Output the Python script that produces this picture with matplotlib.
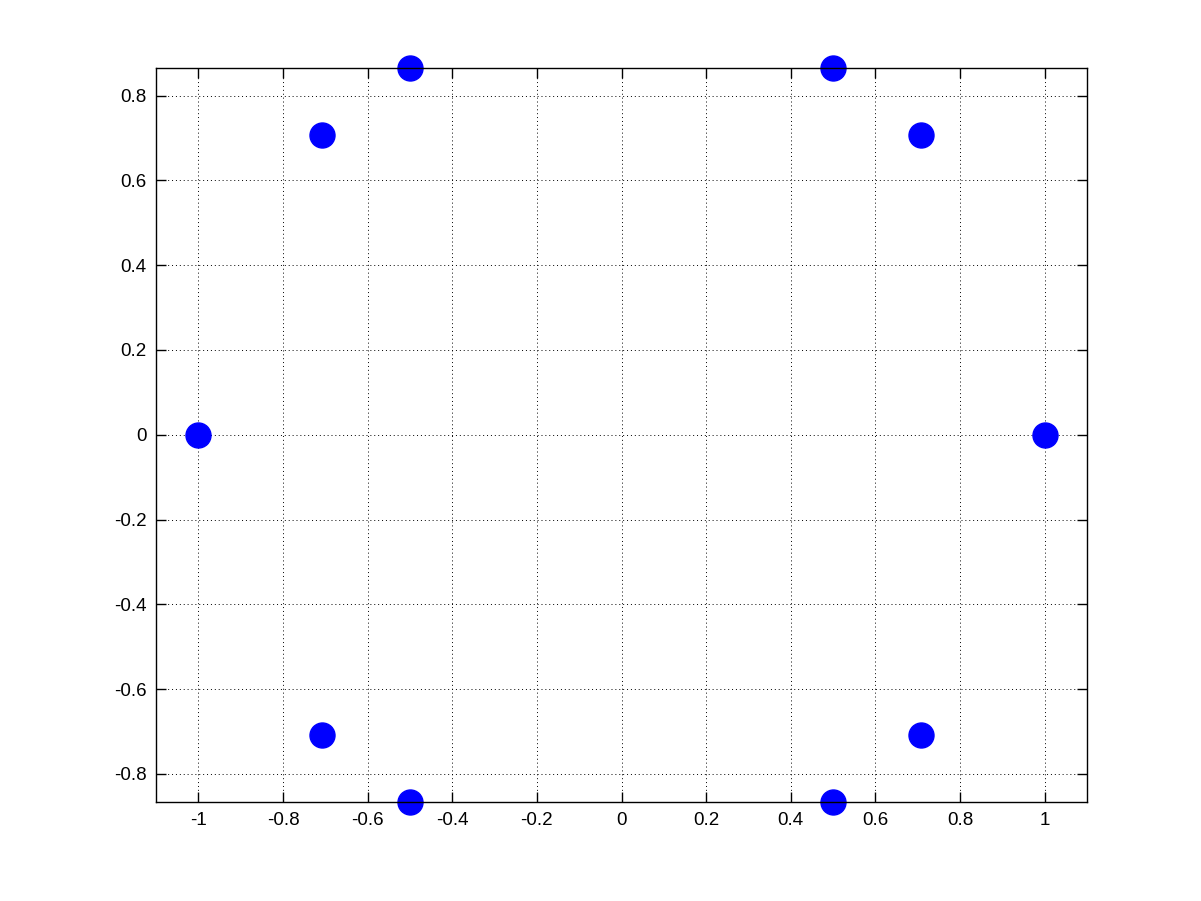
import matplotlib
matplotlib.use("Agg")
import matplotlib.pyplot as plt

# root locations (unit circle)
x_vals = [1.0, 0.7071, 0.5, -0.5, -0.7071, -1.0, -0.7071, -0.5, 0.5, 0.7071]
y_vals = [0.0, 0.7071, 0.866, 0.866, 0.7071, 0.0, -0.7071, -0.866, -0.866, -0.7071]

x_ticks = [-1, -0.8, -0.6, -0.4, -0.2, 0, 0.2, 0.4, 0.6, 0.8, 1]
y_ticks = [-0.8, -0.6, -0.4, -0.2, 0, 0.2, 0.4, 0.6, 0.8]

plt.rcParams["font.family"] = ["Liberation Sans", "DejaVu Sans"]

fig = plt.figure(figsize=(12.01, 9.01), dpi=100)
ax = fig.add_axes([0.13, 0.11, 0.775, 0.815])

ax.plot(x_vals, y_vals, linestyle="none", marker="o", markersize=18,
        color="#0000ff", markeredgecolor="#0000ff", clip_on=False)

ax.set_xlim(-1.1, 1.1)
ax.set_ylim(-0.866, 0.866)
ax.set_xticks(x_ticks)
ax.set_yticks(y_ticks)
ax.set_xticklabels([f"{v:g}" for v in x_ticks])
ax.set_yticklabels([f"{v:g}" for v in y_ticks])

ax.grid(True, color="black", linestyle=(0, (1, 3)), linewidth=0.7)
ax.tick_params(direction="in", length=7, width=1, labelsize=13.5,
               top=True, right=True, pad=7)
for s in ax.spines.values():
    s.set_linewidth(1)
    s.set_zorder(3)

fig.savefig("out.png", dpi=100)
